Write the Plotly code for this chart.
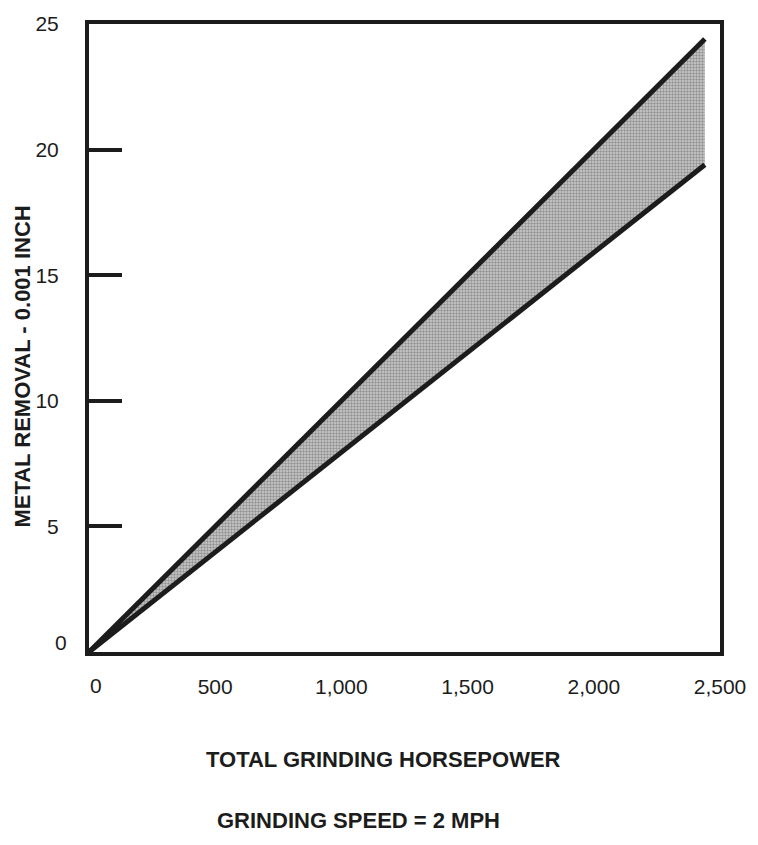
import plotly.graph_objects as go

# Total grinding horsepower vs. metal removal (thousandths of an inch)
horsepower = [0, 2440]
removal_upper = [0, 24.4]
removal_lower = [0, 19.4]

x_ticks = [0, 500, 1000, 1500, 2000, 2500]
x_tick_labels = ["0", "500", "1,000", "1,500", "2,000", "2,500"]
y_ticks = [5, 10, 15, 20, 25]
y_tick_labels = ["5", "10", "15", "20", "25"]

ink = "#1c1c1c"
font_family = "Liberation Sans, Arial, Helvetica, sans-serif"
tick_font = dict(size=21, color=ink, family=font_family)

fig = go.Figure()

fig.add_trace(go.Scatter(
    x=horsepower, y=removal_lower, mode="lines",
    line=dict(color=ink, width=5), showlegend=False, hoverinfo="skip",
))
fig.add_trace(go.Scatter(
    x=horsepower, y=removal_upper, mode="lines",
    line=dict(color=ink, width=5), showlegend=False, hoverinfo="skip",
    fill="tonexty", fillcolor="#bdbdbd",
    fillpattern=dict(shape=".", fgcolor="#555555", bgcolor="#cdcdcd",
                     size=3, solidity=0.5),
))

fig.update_xaxes(
    range=[0, 2500], tickvals=x_ticks[1:], ticktext=x_tick_labels[1:],
    showgrid=False, zeroline=False, showline=True, mirror=True,
    linecolor=ink, linewidth=4, ticks="", ticklabelstandoff=13,
    tickfont=tick_font,
)
fig.update_yaxes(
    range=[0, 25], tickvals=y_ticks, ticktext=y_tick_labels,
    showgrid=False, zeroline=False, showline=True, mirror=True,
    linecolor=ink, linewidth=4, ticks="inside", ticklen=33, tickwidth=4,
    tickcolor=ink, ticklabelstandoff=22,
    tickfont=tick_font,
)

# origin labels sit slightly off the corner
fig.add_annotation(x=0, y=0, xref="x", yref="y", text="0", showarrow=False,
                   xanchor="center", yanchor="top", xshift=7, yshift=-20,
                   font=tick_font)
fig.add_annotation(x=0, y=0, xref="x", yref="y", text="0", showarrow=False,
                   xanchor="right", yanchor="middle", xshift=-20, yshift=10,
                   font=tick_font)

title_font = dict(size=22, color=ink, family=font_family)
fig.add_annotation(x=388, y=845 - 761, xref="paper", yref="paper",
                   text="<b>TOTAL GRINDING HORSEPOWER</b>", showarrow=False,
                   font=title_font, xanchor="center", yanchor="middle")
fig.add_annotation(x=362, y=845 - 823, xref="paper", yref="paper",
                   text="<b>GRINDING SPEED = 2 MPH</b>", showarrow=False,
                   font=title_font, xanchor="center", yanchor="middle")
fig.add_annotation(x=22, y=845 - 363, xref="paper", yref="paper",
                   text="<b>METAL REMOVAL - 0.001 INCH</b>", showarrow=False,
                   font=title_font, textangle=-90,
                   xanchor="center", yanchor="middle")

# convert the pixel-placed annotations above into paper fractions
L, R, T, B = 89, 29, 16, 193
W, H = 758, 845
pw, ph = W - L - R, H - T - B
for ann in fig.layout.annotations:
    if ann.xref == "paper":
        ann.x = (ann.x - L) / pw
        ann.y = (ann.y - B) / ph

fig.update_layout(
    width=W, height=H,
    margin=dict(l=L, r=R, t=T, b=B),
    paper_bgcolor="white", plot_bgcolor="white",
)

fig.write_html("out.html")
